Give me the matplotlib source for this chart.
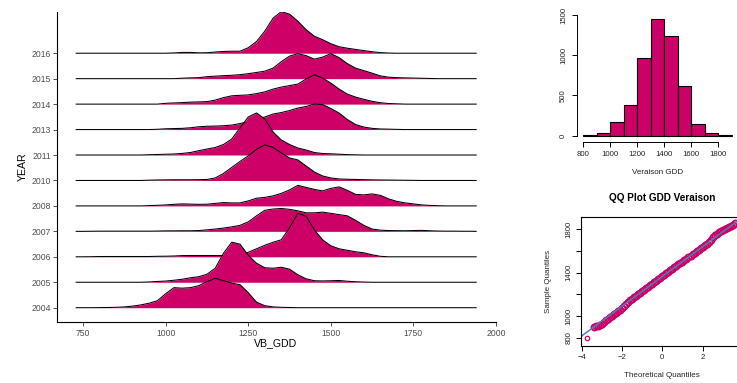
import matplotlib.pyplot as plt
import numpy as np

plt.rcParams['font.family'] = ['Liberation Sans', 'DejaVu Sans']

W, H = 737, 383
FILL = '#CC0066'

# ---- ridgeline data: smoothed VB_GDD density per season (relative heights) ----
years = ['2004', '2005', '2006', '2007', '2008', '2010', '2011', '2013', '2014', '2015', '2016']
gdd_grid = [729] + list(range(750, 1926, 25)) + [1940]

dens_2004 = [0, 0, 0.1, 0.2, 0.4, 0.8, 1.6, 2.8, 4.5, 7, 14, 20, 19.5, 20, 22, 26, 29.3, 27, 24.5,
             23, 15, 5.5, 2, 0.8, 0.4, 0.2] + [0] * 22
dens_2005 = [0] * 8 + [0.3, 0.8, 1.2, 2, 3, 4.5, 5.5, 8, 14, 29, 40, 38, 27, 19, 14.5, 14, 15, 13,
                      7.5, 3.5, 1.5, 1.3, 1.5, 1.8, 1, 0.5, 0.2] + [0] * 13
dens_2006 = [0, 0.1] + [0.3] * 7 + [0.5, 0.6, 0.8, 1.2, 1.3, 1.3, 1.3, 1.3, 1.3, 1.3, 2, 4.5, 8,
                                    11.5, 14.5, 17, 29, 43.5, 40.5, 27, 17, 11, 8, 6.5, 5, 4, 2,
                                    0.5] + [0] * 11
dens_2007 = [0, 0.1] + [0.2] * 7 + [0.3, 0.5, 0.5, 0.6, 0.6, 0.8, 1.5, 2.3, 3.3, 4.5, 6, 9.5, 15.5,
                                    21, 22.3, 22.8, 22, 20.5, 18.5, 18.5, 19.2, 18, 16.7, 15.5, 11,
                                    6, 2.3, 1.2, 0.8, 0.7, 0.6, 0.8, 1, 0.6, 0.3, 0.2, 0.2, 0.1,
                                    0.1]
dens_2008 = [0] * 8 + [0.3, 0.6, 1, 1.6, 2, 1.8, 1.6, 1.7, 2.5, 3.3, 3, 3, 5, 7.7, 8.5, 10, 12.5,
                      16, 20.5, 18.5, 16.5, 15, 17.5, 19, 15.5, 11.5, 11, 12, 10.5, 7, 4.5, 3, 2,
                      1, 0.5, 0.2] + [0] * 4
dens_2010 = [0] * 8 + [0.3, 0.5, 0.6, 0.7, 0.7, 0.7, 0.8, 1, 2.5, 7, 13, 19, 24.5, 31, 35.5, 33,
                      27.5, 22.5, 20.5, 14.5, 8.5, 4.5, 2.5, 1.5, 1.2, 1, 0.8, 0.6, 0.5, 0.4, 0.3,
                      0.2, 0.1] + [0] * 7
dens_2011 = [0] * 8 + [0.3, 0.5, 0.8, 1, 1.6, 2.5, 4.3, 6, 7.5, 10.5, 16, 27, 38, 42, 36, 23, 15,
                      10.5, 7, 5, 2.5, 1.5, 1.2, 0.8, 0.4, 0.2] + [0] * 14
dens_2013 = [0] * 9 + [0.3, 0.8, 1, 1.2, 1.8, 2.8, 3.3, 3.5, 3.8, 4.5, 6, 8, 10.5, 12.5, 15.5, 17,
                      19, 21.5, 23, 25.5, 25, 21, 16.5, 10, 5, 2.5, 1.2, 0.6, 0.4, 0.2] + [0] * 9
dens_2014 = [0] * 10 + [0.8, 1.2, 1.5, 2, 2.2, 2.5, 4, 6.5, 8.3, 8.8, 9.2, 10.5, 12.2, 15, 17,
                       18.5, 20, 25, 29.3, 26, 21, 15, 10, 7, 4.8, 2.8, 1.4, 0.6, 0.3] + [0] * 9
dens_2015 = [0] * 12 + [0.5, 0.8, 1, 2, 2.5, 3, 3.4, 4, 5, 6.2, 7.5, 10.5, 17, 22.5, 25, 23,
                       19.5, 21.5, 25, 21, 15, 10.5, 8, 5.5, 2.8, 1.5, 1, 0.8, 0.6, 0.4,
                       0.2] + [0] * 5
dens_2016 = [0] * 11 + [0.3, 0.8, 0.8, 0.4, 0.5, 1.2, 1.8, 2, 2, 5.5, 11.7, 22, 35, 41.5, 39, 32,
                       23.5, 17, 13.5, 9.5, 6.5, 5, 3.8, 2.6, 1.5, 0.6, 0.2] + [0] * 10

ridges = [dens_2004, dens_2005, dens_2006, dens_2007, dens_2008, dens_2010,
          dens_2011, dens_2013, dens_2014, dens_2015, dens_2016]
ridge_scale = 1 / 25.4

# ---- histogram of veraison GDD ----
hist_edges = [800, 900, 1000, 1100, 1200, 1300, 1400, 1500, 1600, 1700, 1800, 1900]
hist_counts = [5, 34, 166, 378, 962, 1447, 1243, 618, 149, 33, 5]

# ---- normal QQ plot ----
qq_extreme_theo = [-3.72]
qq_extreme_sample = [800]
qq_theo = np.round(np.arange(-3.4, 3.65, 0.1), 1)
qq_sample = [905, 906, 910, 918, 932, 948, 963, 978, 992, 1006, 1019, 1032, 1046, 1060, 1076,
             1094, 1112, 1129, 1145, 1160, 1174, 1187, 1201, 1214, 1228, 1242, 1256, 1270, 1284,
             1298, 1311, 1325, 1338, 1352, 1366, 1379, 1393, 1406, 1420, 1434, 1447, 1461, 1474,
             1487, 1500, 1514, 1528, 1542, 1555, 1568, 1582, 1595, 1608, 1622, 1636, 1650, 1665,
             1682, 1702, 1722, 1741, 1758, 1772, 1780, 1788, 1798, 1806, 1814, 1824, 1838, 1856]
qq_intercept = 1364
qq_slope = 136.3


def px_box(left, top, right, bottom):
    return [left / W, 1 - bottom / H, (right - left) / W, (bottom - top) / H]


fig = plt.figure(figsize=(W / 100, H / 100), dpi=100)

# ridgeline panel
ax = fig.add_axes(px_box(56.7, 12, 496, 322))
n = len(years)
for i in range(n - 1, -1, -1):
    h = np.array([0] + ridges[i] + [0]) * ridge_scale
    z = 2 + 2 * (n - i)
    ax.fill_between(gdd_grid, i, i + h, color=FILL, lw=0, zorder=z)
    ax.plot(gdd_grid, i + h, color='black', lw=0.75, zorder=z + 1)

ax.set_xlim(670, 2000)
ax.set_ylim(-0.562, 11.62)
ax.set_xticks([750, 1000, 1250, 1500, 1750, 2000])
ax.set_yticks(range(n))
ax.set_yticklabels(years)
for s in ['top', 'right']:
    ax.spines[s].set_visible(False)
for s in ['left', 'bottom']:
    ax.spines[s].set_linewidth(0.8)
ax.tick_params(axis='both', labelsize=6.2, labelcolor='#4D4D4D', length=3, width=0.6,
               color='#333333')
ax.tick_params(axis='y', pad=1.2)
ax.tick_params(axis='x', pad=1.8)
fig.text(276 / W, 1 - 343 / H, 'VB_GDD', fontsize=7.6, ha='center', va='center')
fig.text(23 / W, 1 - 167 / H, 'YEAR', fontsize=7.6, ha='center', va='center', rotation=90)

# histogram panel
hx = fig.add_axes(px_box(576.7, 14.6, 737.5, 141.7))
hx.bar(hist_edges[:-1], hist_counts, width=100, align='edge', color=FILL,
       edgecolor='black', linewidth=0.8)
hx.set_xlim(751, 1944)
hx.set_ylim(-74.6, 1505)
hx.set_xticks([800, 1000, 1200, 1400, 1600, 1800])
hx.set_yticks([0, 500, 1000, 1500])
hx.spines['top'].set_visible(False)
hx.spines['right'].set_visible(False)
hx.spines['bottom'].set_bounds(800, 1800)
hx.spines['left'].set_bounds(0, 1500)
for s in ['left', 'bottom']:
    hx.spines[s].set_linewidth(0.7)
hx.tick_params(axis='both', labelsize=5.6, length=3.5, width=0.7, labelcolor='#222222')
hx.tick_params(axis='x', pad=3.2)
hx.tick_params(axis='y', pad=3.5)
plt.setp(hx.get_yticklabels(), rotation=90, va='center')
fig.text(658 / W, 1 - 173 / H, 'Veraison GDD', fontsize=5.8, ha='center', va='center',
         color='#222222')

# QQ panel
qx = fig.add_axes(px_box(581.3, 216.7, 743.3, 346))
qx.plot(qq_theo, qq_sample, linestyle='none', marker='o', markersize=4.4,
        markerfacecolor='none', markeredgecolor=FILL, markeredgewidth=1.3)
qx.plot(qq_extreme_theo, qq_extreme_sample, linestyle='none', marker='o', markersize=3.2,
        markerfacecolor='none', markeredgecolor=FILL, markeredgewidth=0.9)
qx.axline((0, qq_intercept), slope=qq_slope, color='#4682B4', lw=1.1)
qx.set_xlim(-4.02, 4.02)
qx.set_ylim(727, 1912)
qx.set_xticks([-4, -2, 0, 2])
qx.set_yticks([800, 1000, 1200, 1400, 1600, 1800])
qx.set_yticklabels(['800', '1000', '', '1400', '', '1800'])
for s in qx.spines.values():
    s.set_linewidth(0.8)
qx.tick_params(axis='both', labelsize=5.6, length=3.5, width=0.7, labelcolor='#222222', pad=2.6)
plt.setp(qx.get_yticklabels(), rotation=90, va='center')
fig.text(662 / W, 1 - 198.3 / H, 'QQ Plot GDD Veraison', fontsize=7.2, fontweight='bold',
         ha='center', va='center')
fig.text(662 / W, 1 - 375.7 / H, 'Theoretical Quantiles', fontsize=5.8, ha='center',
         va='center', color='#222222')
fig.text(548.3 / W, 1 - 281 / H, 'Sample Quantiles', fontsize=5.8, ha='center', va='center',
         rotation=90, color='#222222')

fig.savefig('out.png', dpi=100)
